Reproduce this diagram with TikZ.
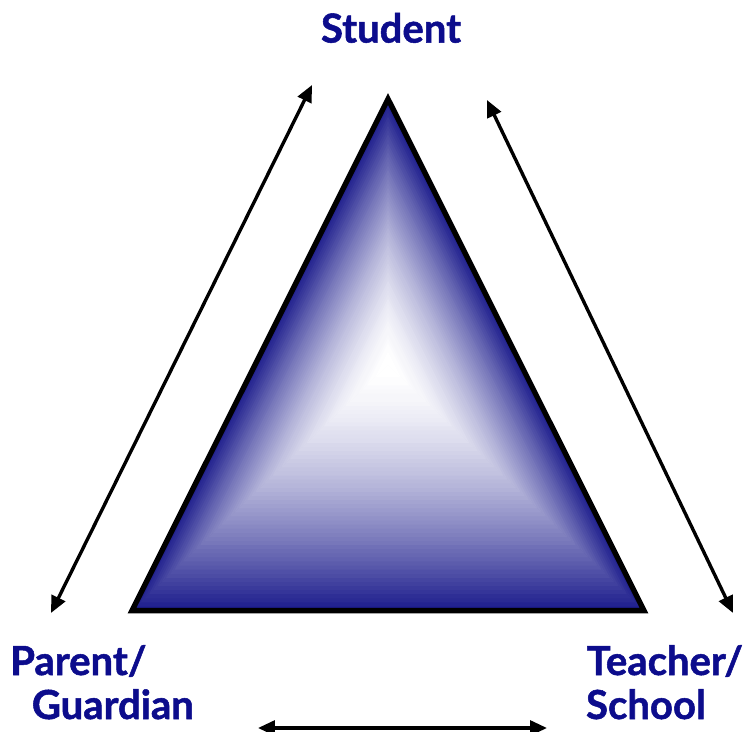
\documentclass[tikz,border=0pt]{standalone}
\usepackage{fontspec}
\setmainfont{Lato}[BoldFeatures={FakeBold=1.3}]
\usetikzlibrary{calc,arrows.meta}
\definecolor{edgeblue}{RGB}{28,28,140}
\definecolor{textblue}{RGB}{12,12,140}
\tikzset{
  lbl/.style={inner sep=0pt, anchor=base west, text=textblue,
    font=\fontsize{28.5}{31}\selectfont\bfseries},
  link/.style={line width=2.4pt, {Triangle[length=12pt,width=10.5pt]}-{Triangle[length=12pt,width=10.5pt]}}
}
\begin{document}
\begin{tikzpicture}
    \useasboundingbox (0, 0) rectangle (18.6, 18.275) ;
    \coordinate (apex) at (9.7, 15.8) ;
    \coordinate (bl) at (3.3, 3.01) ;
    \coordinate (br) at (16.1, 3.01) ;
    \coordinate (c) at (9.7, 9.15) ;
    \foreach \i in {0,...,59} {
      \pgfmathsetmacro\t{\i/60}
      \pgfmathtruncatemacro\p{100*(1-\t)^1.6}
      \fill[edgeblue!\p!white] ($(bl)!\t!(c)$) -- ($(br)!\t!(c)$) -- (c) -- cycle ;
      \fill[edgeblue!\p!white] ($(bl)!\t!(c)$) -- ($(apex)!\t!(c)$) -- (c) -- cycle ;
      \fill[edgeblue!\p!white] ($(apex)!\t!(c)$) -- ($(br)!\t!(c)$) -- (c) -- cycle ;
    }
    \draw[line width=3.8pt, line join=miter] (apex) -- (bl) -- (br) -- cycle ;
    \node[lbl, anchor=base] (student) at (9.775, 17.21) {Student} ;
    \node[lbl] (parent) at (0.25, 1.4) {Parent/} ;
    \node[lbl] (guardian) at (0.79, 0.3) {Guardian} ;
    \node[lbl] (teacher) at (14.66, 1.4) {Teacher/} ;
    \node[lbl] (school) at (14.645, 0.3) {School} ;
    \coordinate (l1) at (1.275, 2.95) ;
    \coordinate (l2) at (7.8, 16.15) ;
    \coordinate (r1) at (12.175, 15.775) ;
    \coordinate (r2) at (18.325, 2.95) ;
    \coordinate (b1) at (6.45, 0.075) ;
    \coordinate (b2) at (13.675, 0.075) ;
    \draw[link] (l1) -- (l2) ;
    \draw[link] (r1) -- (r2) ;
    \draw[link] (b1) -- (b2) ;
\end{tikzpicture}
\end{document}
